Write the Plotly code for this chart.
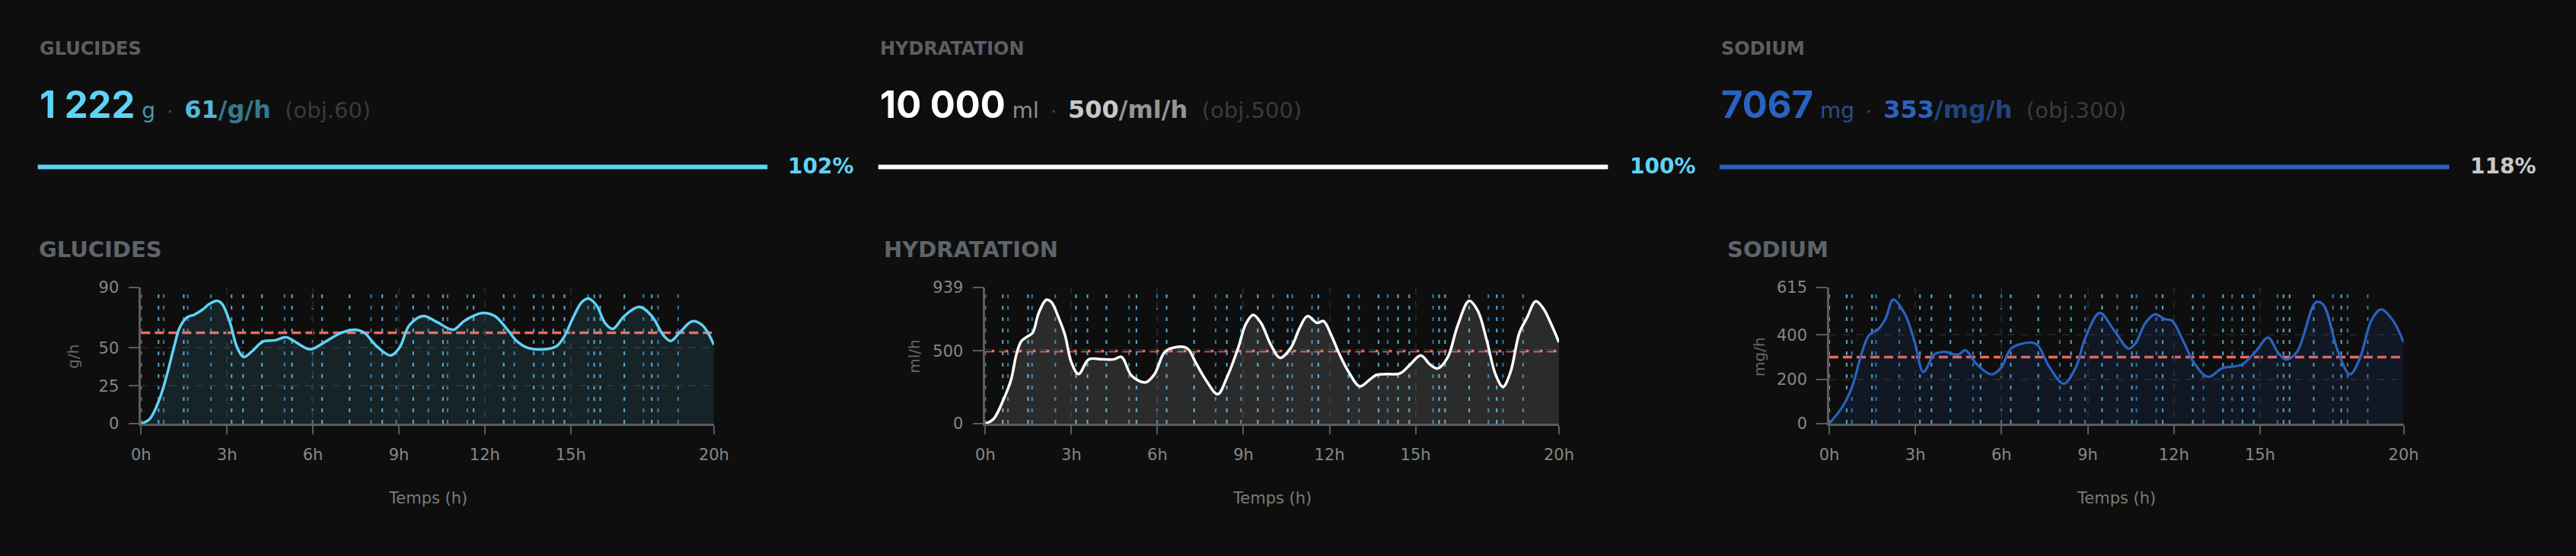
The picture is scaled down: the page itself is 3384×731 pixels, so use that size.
import plotly.graph_objects as go

W, H = 3384, 731
FONT = "DejaVu Sans, Inter, sans-serif"
NUMFONT = "Inter"
BG = "#0e0e0e"

# ---------------- data ----------------
metric_names = ["GLUCIDES", "HYDRATATION", "SODIUM"]
total_text = ["1\u00a0222", "10\u00a0000", "7067"]
total_unit = ["g", "ml", "mg"]
rate_value = ["61", "500", "353"]
rate_unit = ["/g/h", "/ml/h", "/mg/h"]
target_text = ["(obj.60)", "(obj.500)", "(obj.300)"]
pct_text = ["102%", "100%", "118%"]
y_units = ["g/h", "ml/h", "mg/h"]
targets = [60, 500, 300]
y_max = [90, 939, 615]
y_ticks = [[0, 25, 50, 90], [0, 500, 939], [0, 200, 400, 615]]
x_ticks = [0, 3, 6, 9, 12, 15, 20]
x_labels = ["0h", "3h", "6h", "9h", "12h", "15h", "20h"]

glucides_t = [0, 0.3, 0.64, 0.9, 1.17, 1.34, 1.6, 1.87, 2.13, 2.39, 2.66, 2.83, 3.1, 3.36,
              3.58, 3.89, 4.24, 4.68, 5.07, 5.38, 5.9, 6.43, 7.0, 7.48, 7.79, 8.23, 8.71,
              9.02, 9.37, 9.85, 10.33, 10.9, 11.3, 11.91, 12.35, 12.79, 13.14, 13.5, 14.06,
              14.5, 14.76, 15.11, 15.38, 15.62, 15.9, 16.21, 16.47, 16.87, 17.39, 17.83,
              18.23, 18.49, 18.8, 19.24, 19.59, 20.0]
glucides_v = [0, 3, 16, 32, 52, 63, 70, 72, 75, 79, 81, 79, 67, 50,
              44, 48, 54, 55, 57, 54, 49, 54, 60, 62, 60, 51, 45,
              50, 65, 71, 67, 62, 68, 73, 71, 62, 54, 50, 49,
              51, 57, 71, 80, 82.5, 78, 66, 62.5, 71, 77, 71,
              58.5, 54.5, 60, 67.5, 65, 52]

hydration_t = [0, 0.29, 0.64, 0.9, 1.08, 1.25, 1.47, 1.65, 1.86, 2.13, 2.3, 2.56, 2.78, 3.0,
               3.25, 3.61, 4.05, 4.49, 4.75, 5.1, 5.58, 5.89, 6.24, 6.5, 7.03, 7.33, 7.68,
               8.1, 8.43, 8.82, 9.08, 9.34, 9.61, 9.96, 10.28, 10.66, 10.96, 11.23, 11.57,
               11.79, 12.06, 12.32, 12.67, 13.06, 13.41, 13.63, 14.02, 14.46, 14.81, 15.18,
               15.51, 15.77, 16.12, 16.47, 16.87, 17.17, 17.48, 17.79, 18.05, 18.31, 18.62,
               18.88, 19.19, 19.45, 19.71, 20.0]
hydration_v = [0, 33, 169, 304, 473, 566, 600, 625, 761, 853, 837, 727, 609, 422,
               341, 443, 443, 443, 459, 330, 284, 338, 490, 520, 520, 422, 304,
               203, 321, 524, 685, 749, 693, 541, 453, 524, 659, 740, 693,
               706, 609, 490, 355, 257, 304, 335, 341, 346, 406, 470,
               406, 380, 456, 676, 845, 777, 575, 338, 254, 355, 625,
               727, 842, 794, 693, 560]

sodium_t = [0, 0.47, 0.8, 1.14, 1.39, 1.72, 1.97, 2.23, 2.64, 2.98, 3.28, 3.65, 3.98, 4.49,
            4.74, 5.15, 5.66, 6.0, 6.33, 7.0, 7.25, 7.67, 8.17, 8.59, 8.92, 9.42, 9.92,
            10.43, 10.68, 11.01, 11.35, 11.68, 11.93, 12.35, 12.69, 13.19, 13.69, 14.36,
            14.86, 15.28, 15.62, 15.9, 16.28, 16.95, 17.2, 17.71, 18.13, 18.46, 18.88,
            19.21, 19.63, 20.0]
sodium_v = [0, 78, 167, 322, 399, 427, 476, 559, 493, 366, 233, 311, 324, 311,
            331, 266, 222, 255, 338, 366, 355, 255, 180, 255, 388, 499, 421,
            338, 366, 454, 493, 471, 465, 366, 277, 211, 250, 266,
            327, 388, 322, 289, 322, 548, 537, 327, 222, 289, 465,
            515, 465, 366]

event_times = [0, 0.61, 0.79, 1.49, 1.63, 2.44, 3.16, 3.56, 4.22, 5.01, 5.27, 5.99, 6.32,
               7.28, 8.03, 8.42, 8.91, 9.5, 10.03, 10.54, 10.7, 11.39, 11.61, 12.66, 13.03,
               13.71, 14.03, 14.39, 14.78, 15.61, 15.82, 16.03, 16.87, 17.54, 17.83, 18.05,
               18.75]
event_kind = ["a", "a", "b", "a", "b", "b", "a", "a", "a", "b", "a", "b", "a",
              "a", "b", "a", "b", "a", "b", "a", "b", "b", "a", "a", "b",
              "a", "b", "a", "a", "b", "a", "a", "a", "b", "a", "b", "b"]

series_t = [glucides_t, hydration_t, sodium_t]
series_v = [glucides_v, hydration_v, sodium_v]

# ---------------- styles ----------------
line_colors = ["#5fd3f5", "#ffffff", "#2a62c2"]
fill_colors = ["rgba(95,211,245,0.11)", "rgba(255,255,255,0.12)", "rgba(42,98,194,0.12)"]
line_widths = [3.5, 3.5, 3.2]
total_colors = ["#5fd3f5", "#ffffff", "#2a62c2"]
unit_colors = ["#4a97b0", "#8e8e8e", "#27508f"]
rate_colors = ["#56b6d4", "#c8c8c8", "#2a62c2"]
rate_unit_colors = ["#37788d", "#959595", "#1f4580"]
pct_colors = ["#5fd3f5", "#5fd3f5", "#c9c9c9"]
bar_colors = ["#5fd3f5", "#ffffff", "#2a62c2"]
event_colors = {"a": "#4f9dc4", "b": "#34719f"}

# positions in page pixels
header_x = [37, 1152, 2268]
bar_x1 = [1005, 2120, 3236]
pct_x = [1030, 2147, 3262]
ctitle_x = [36, 1157, 2276]
plot_x0 = [174, 1294, 2413.5]
plot_x1 = [934, 2055, 3175.5]
ytitle_x = [83, 1199, 2320]
plot_top, plot_bot = 378, 563.5


def px(x):
    return x / W


def py(y):
    return 1 - y / H


fig = go.Figure()
shapes = []
annotations = []

for i in range(3):
    xa = "x" if i == 0 else f"x{i+1}"
    ya = "y" if i == 0 else f"y{i+1}"
    fig.add_trace(go.Scatter(
        x=series_t[i], y=series_v[i], xaxis=xa, yaxis=ya, mode="lines",
        line=dict(color=line_colors[i], width=line_widths[i], shape="spline", smoothing=1.0),
        fill="tozeroy", fillcolor=fill_colors[i], hoverinfo="skip", showlegend=False))

    for t, k in zip(event_times, event_kind):
        shapes.append(dict(type="line", xref=xa, yref=f"{ya} domain", x0=t, x1=t, y0=0, y1=1,
                           line=dict(color=event_colors[k], width=2.2, dash="5px,10px"),
                           layer="below"))
    shapes.append(dict(type="line", xref=f"{xa} domain", yref=ya, x0=0, x1=1,
                       y0=targets[i], y1=targets[i],
                       line=dict(color="#f4665a", width=3.5, dash="12px,6px"), layer="below"))

    axis_common = dict(showline=True, linecolor="#5c5c5c", linewidth=2.5, ticks="outside",
                       tickcolor="#5c5c5c", tickwidth=2, zeroline=False,
                       showgrid=True, gridcolor="#232323", gridwidth=1.5, griddash="dash",
                       tickfont=dict(family=FONT, size=21, color="#868686"), fixedrange=True)
    fig.layout[("xaxis" if i == 0 else f"xaxis{i+1}")] = dict(
        axis_common, domain=[px(plot_x0[i]), px(plot_x1[i])], anchor=ya, range=[0, 20],
        tickmode="array", tickvals=x_ticks, ticktext=x_labels, ticklen=11,
        ticklabelstandoff=9)
    fig.layout[("yaxis" if i == 0 else f"yaxis{i+1}")] = dict(
        axis_common, domain=[py(plot_bot), py(plot_top)], anchor=xa, range=[0, y_max[i]],
        tickmode="array", tickvals=y_ticks[i], ticktext=[str(v) for v in y_ticks[i]],
        ticklen=14, ticklabelstandoff=8)

    # header
    annotations.append(dict(text=f"<b>{metric_names[i]}</b>", x=px(header_x[i]), y=py(54),
                            xref="paper", yref="paper", xanchor="left", yanchor="middle",
                            showarrow=False, font=dict(family=FONT, size=24, color="#5b5e64")))
    nb = "\u00a0"
    line_txt = (f"<span style='font-family:{NUMFONT};font-size:49px;color:{total_colors[i]}'><b>{total_text[i]}</b></span>"
                f"<span style='font-size:28px;color:{unit_colors[i]}'>{nb}{total_unit[i]}</span>"
                f"<span style='font-size:24px;color:#4a4a4a'>{nb}{nb}·{nb}{nb}</span>"
                f"<span style='font-size:32px;color:{rate_colors[i]}'><b>{rate_value[i]}</b></span>"
                f"<span style='font-size:32px;color:{rate_unit_colors[i]}'><b>{rate_unit[i]}</b></span>"
                f"<span style='font-size:29px;color:#3a3a3a'>{nb}{nb}{target_text[i]}</span>")
    annotations.append(dict(text=line_txt, x=px(header_x[i]), y=py(130), xref="paper",
                            yref="paper", xanchor="left", yanchor="middle", showarrow=False,
                            font=dict(family=FONT, size=30, color="#ffffff")))
    shapes.append(dict(type="line", xref="paper", yref="paper", x0=px(header_x[i]),
                       x1=px(bar_x1[i]), y0=py(214.5), y1=py(214.5),
                       line=dict(color=bar_colors[i], width=6)))
    annotations.append(dict(text=f"<b>{pct_text[i]}</b>", x=px(pct_x[i]), y=py(214), xref="paper",
                            yref="paper", xanchor="left", yanchor="middle", showarrow=False,
                            font=dict(family=FONT, size=28, color=pct_colors[i])))
    annotations.append(dict(text=f"<b>{metric_names[i]}</b>", x=px(ctitle_x[i]), y=py(327),
                            xref="paper", yref="paper", xanchor="left", yanchor="middle",
                            showarrow=False, font=dict(family=FONT, size=29, color="#5f636a")))
    annotations.append(dict(text=y_units[i], x=px(ytitle_x[i]), y=py(472), xref="paper",
                            yref="paper", xanchor="center", yanchor="middle", textangle=-90,
                            showarrow=False, font=dict(family=FONT, size=20, color="#686868")))
    annotations.append(dict(text="Temps (h)", x=px((plot_x0[i] + plot_x1[i]) / 2), y=py(665),
                            xref="paper", yref="paper", xanchor="center", yanchor="middle",
                            showarrow=False, font=dict(family=FONT, size=21, color="#7a7a7a")))

fig.update_layout(
    width=W, height=H, autosize=False,
    margin=dict(l=0, r=0, t=0, b=0, pad=0),
    paper_bgcolor=BG, plot_bgcolor="rgba(0,0,0,0)",
    font=dict(family=FONT, color="#848484"),
    shapes=shapes, annotations=annotations, showlegend=False,
)

fig.write_html("out.html", config={"displayModeBar": False},
               post_script="document.body.style.margin='0';document.body.style.background='#0e0e0e';")
